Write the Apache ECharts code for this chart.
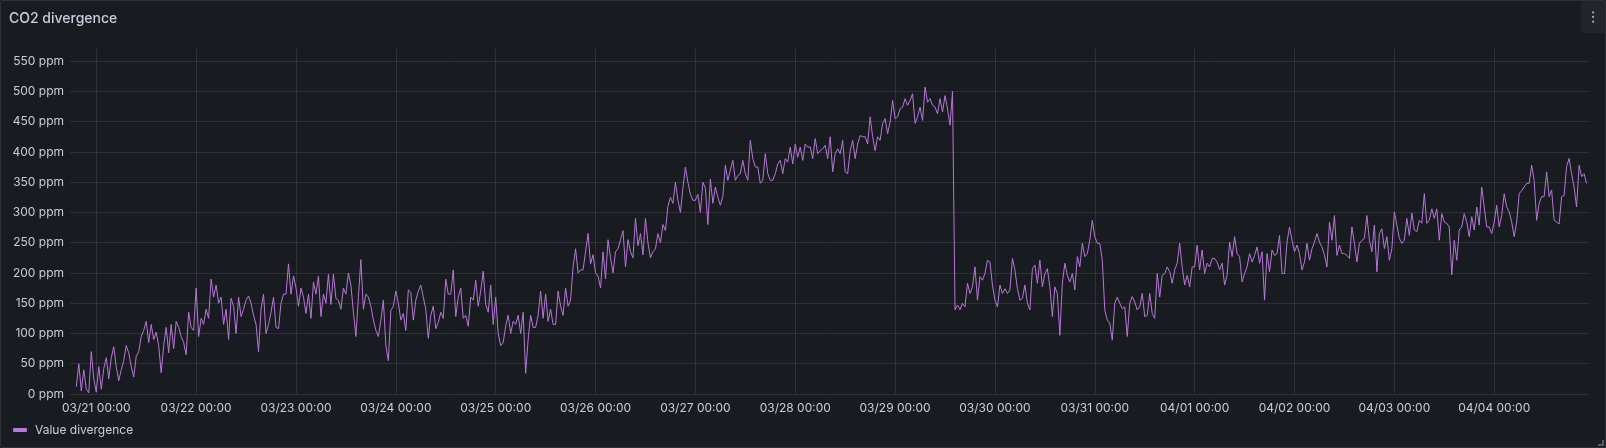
<!DOCTYPE html>
<html><head><meta charset="utf-8">
<script src="https://cdn.jsdelivr.net/npm/echarts@6/dist/echarts.min.js"></script>
<style>
html,body{margin:0;padding:0;background:#111217;}
#panel{position:absolute;left:0;top:0;width:1606px;height:448px;box-sizing:border-box;background:#181b1f;border:1px solid rgba(204,204,220,0.12);border-radius:2px;overflow:hidden;}
#chart{position:absolute;left:-1px;top:-1px;width:1606px;height:448px;}
</style></head><body>
<div id="panel"><div id="chart"></div></div>
<script>
const chartTitle = 'CO2 divergence';
const seriesName = 'Value divergence';
const unit = 'ppm';
// sampling: first point time and step
const startTime = Date.UTC(2025, 2, 20, 19, 12);
const stepMinutes = 36;
// visible time range
const axisStart = Date.UTC(2025, 2, 20, 17, 41);
const axisEnd = Date.UTC(2025, 3, 4, 22, 47);
// y axis ticks
const yMin = 0, yMax = 570, yStep = 50;

const values = [
12, 50, 5, 40, 8, 2, 70, 25, 3, 45,
8, 42, 60, 25, 60, 78, 45, 22, 40, 55,
80, 68, 45, 28, 62, 70, 95, 105, 120, 85,
115, 90, 102, 80, 35, 80, 110, 68, 115, 75,
120, 110, 95, 85, 65, 135, 110, 105, 175, 95,
125, 115, 140, 125, 190, 160, 180, 150, 160, 115,
140, 90, 158, 145, 100, 160, 128, 140, 155, 162,
150, 130, 115, 70, 140, 165, 100, 115, 135, 160,
110, 108, 150, 165,
165, 215, 165, 195, 175, 145, 175, 160, 133, 165,
125, 185, 165, 195, 128, 165, 150, 198, 148, 198,
158, 155, 140, 175, 165, 200, 180, 135, 95, 160,
222, 140, 165, 160, 145, 122, 105, 95, 122, 155,
80, 55, 138, 145, 170, 150, 122, 133, 105, 172,
168, 122, 155, 170, 180, 160, 140, 92, 130, 145,
108, 118, 135, 125, 190, 165, 165, 205, 128, 160,
175, 125, 130, 112, 160, 155, 188, 145, 170, 203,
148, 135, 180, 115, 160, 100,
80, 85, 112, 130, 100, 120, 115, 130, 100, 135,
34, 90, 130, 110, 110, 130, 170, 125, 165, 120,
140, 115, 115, 170, 145, 130, 175, 145, 155, 210,
240, 200, 205, 205, 235, 265, 215, 230, 200, 195,
175, 235, 190, 255, 225, 200, 235, 240, 255, 270,
210, 255, 235, 225, 290, 245, 265, 230, 290, 250,
225, 235, 240, 265, 250, 280, 270, 310, 325, 315,
350, 320, 300, 340, 375, 350, 330, 320, 320, 330,
300, 350, 340, 280, 355, 315,
342, 325, 312, 326, 378, 353, 370, 386, 353, 361,
364, 386, 364, 353, 419, 389, 375, 375, 348, 353,
397, 364, 353, 353, 364, 380, 386, 364, 389, 383,
408, 380, 413, 391, 408, 386, 413, 408, 408, 389,
422, 397, 402, 405, 411, 389, 425, 367, 397, 405,
397, 419, 367, 364, 402, 419, 389, 413, 427, 425,
425, 413, 458, 425, 402, 425, 419, 447, 455, 430,
449, 485, 455, 458, 471, 474, 488, 477, 485, 496,
447, 458, 474, 452, 507, 482,
488, 477, 474, 463, 488, 466, 493, 471, 444, 500,
139, 147, 139, 150, 144, 183, 166, 177, 210, 155,
194, 188, 199, 221, 218, 180, 155, 144, 180, 166,
174, 166, 172, 224, 205, 174, 155, 158, 180, 150,
139, 207, 213, 183, 221, 177, 199, 207, 177, 128,
177, 166, 97, 183, 216, 196, 185, 199, 172, 227,
210, 249, 227, 232, 254, 287, 260, 249, 249, 221,
139, 122, 117, 89, 150, 160, 150, 141, 144, 95,
150, 161, 152, 139, 144, 166,
128, 130, 166, 133, 125, 199, 160, 196, 199, 210,
202, 183, 205, 216, 249, 210, 180, 196, 177, 210,
210, 246, 205, 238, 199, 216, 210, 224, 224, 218,
205, 216, 180, 196, 251, 227, 260, 232, 227, 185,
199, 210, 232, 218, 229, 243, 216, 235, 155, 232,
202, 238, 229, 232, 262, 199, 199, 251, 276, 254,
235, 246, 232, 205, 218, 249, 221, 240, 251, 265,
251, 243, 229, 210, 284, 254, 295, 229, 246, 232,
232, 229, 224, 276, 249, 218,
249, 254, 257, 295, 254, 235, 279, 202, 265, 273,
240, 260, 221, 240, 301, 279, 257, 249, 254, 290,
262, 299, 271, 268, 287, 282, 331, 282, 287, 306,
290, 306, 254, 298, 284, 282, 276, 197, 254, 221,
271, 276, 298, 284, 260, 293, 271, 309, 279, 342,
309, 276, 276, 265, 284, 312, 276, 295, 331, 309,
301, 284, 260, 284, 331, 336, 342, 348, 348, 378,
353, 287, 315, 326, 326, 367, 326, 337, 287, 284,
281, 326, 328, 376, 389, 364, 342, 309, 378, 359,
364, 348
];

const textColor = '#ccccdc';
const gridColor = 'rgba(204,204,220,0.12)';
const lineColor = '#b877d9';
const font = 'Inter, "Noto Sans", sans-serif';

const seriesData = values.map((v, i) => [startTime + i * stepMinutes * 60000, v]);
const pad = n => String(n).padStart(2, '0');

const chart = echarts.init(document.getElementById('chart'), null, { renderer: 'canvas' });
chart.setOption({
  useUTC: true,
  animation: false,
  backgroundColor: 'transparent',
  textStyle: { fontFamily: font },
  title: {
    text: chartTitle, left: 4, top: 7,
    textStyle: { color: textColor, fontSize: 14, fontWeight: 500, fontFamily: font }
  },
  legend: {
    data: [seriesName], left: 8, top: 419, icon: 'roundRect',
    itemWidth: 14, itemHeight: 4, itemGap: 10,
    textStyle: { color: textColor, fontSize: 12, fontFamily: font, padding: [0, 0, 0, 3] }
  },
  grid: { left: 70, right: 17, top: 49, bottom: 54, containLabel: false },
  xAxis: {
    type: 'time', min: axisStart, max: axisEnd,
    minInterval: 86400000, maxInterval: 86400000,
    axisLine: { show: false }, axisTick: { show: false },
    splitLine: { show: true, showMinLine: false, showMaxLine: false, lineStyle: { color: gridColor, width: 1 } },
    axisLabel: {
      color: textColor, fontSize: 12, fontFamily: font, margin: 8,
      formatter: (val) => {
        const d = new Date(val);
        if (d.getUTCHours() !== 0 || d.getUTCMinutes() !== 0) return '';
        return pad(d.getUTCMonth() + 1) + '/' + pad(d.getUTCDate()) + ' 00:00';
      }
    }
  },
  yAxis: {
    type: 'value', min: yMin, max: yMax, interval: yStep,
    axisLine: { show: false }, axisTick: { show: false },
    splitLine: { show: true, showMaxLine: false, lineStyle: { color: gridColor, width: 1 } },
    axisLabel: {
      color: textColor, fontSize: 12, fontFamily: font, margin: 6, showMaxLabel: false,
      formatter: (v) => v + ' ' + unit
    }
  },
  series: [{
    name: seriesName, type: 'line', data: seriesData,
    showSymbol: false, symbol: 'none', smooth: false,
    lineStyle: { color: lineColor, width: 1 }, itemStyle: { color: lineColor },
    sampling: null
  }],
  graphic: [
    { type: 'rect', right: 0, top: 0, shape: { width: 25, height: 33, r: [0, 2, 0, 2] }, style: { fill: '#22252b' }, silent: true },
    { type: 'circle', left: 1592, top: 11.3, shape: { r: 1.1 }, style: { fill: '#a6a7b0' }, silent: true },
    { type: 'circle', left: 1592, top: 15.8, shape: { r: 1.1 }, style: { fill: '#a6a7b0' }, silent: true },
    { type: 'circle', left: 1592, top: 20.6, shape: { r: 1.1 }, style: { fill: '#a6a7b0' }, silent: true },
    { type: 'polyline', shape: { points: [[1603, 440], [1603, 445], [1598, 445]] }, style: { stroke: '#6e6f78', lineWidth: 1.5, fill: null }, silent: true }
  ]
});
</script>
</body></html>
